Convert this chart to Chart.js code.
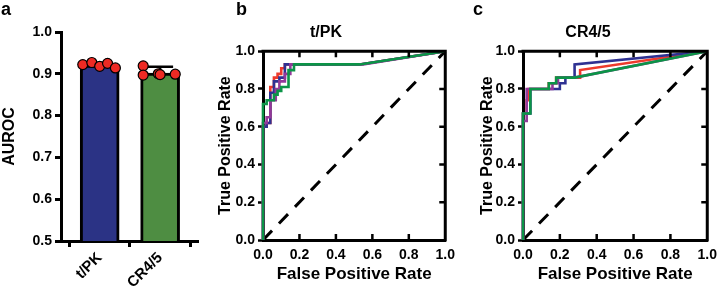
<!DOCTYPE html>
<html>
<head>
<meta charset="utf-8">
<script src="https://cdn.jsdelivr.net/npm/chart.js@4"></script>
<style>
  html, body { margin: 0; padding: 0; background: #fff; }
  #wrap { position: relative; width: 724px; height: 291px; overflow: hidden; font-family: 'Liberation Sans', Arial, sans-serif; }
  canvas { position: absolute; top: 0; }
  .tag { position: absolute; top: 0; font-weight: bold; font-size: 18px; line-height: 18px; color: #000; }
</style>
</head>
<body>
<div id="wrap">
  <canvas id="chartA" style="left:0" width="205" height="291"></canvas>
  <canvas id="chartB" style="left:200px" width="262" height="291"></canvas>
  <canvas id="chartC" style="left:462px" width="262" height="291"></canvas>
  <div class="tag" style="left:1px">a</div>
  <div class="tag" style="left:236px">b</div>
  <div class="tag" style="left:473px">c</div>
</div>
<script>
// panel a: AUROC per feature set (5 runs each)
const categories = ['t/PK', 'CR4/5'];
const aurocMean = [0.921, 0.902];
const aurocSd = [0.005, 0.015];
const tpkRuns = [0.922, 0.927, 0.918, 0.925, 0.914];
const crRuns = [0.919, 0.897, 0.900, 0.899, 0.898];
const tpkJitter = [-0.28, -0.13, 0, 0.13, 0.26];
const crJitter = [-0.28, -0.28, -0.03, 0.25, 0.0];
const barColors = ['#2b3385', '#4e8d42'];

// panels b/c: ROC curves [fpr, tpr]
const tpkRed = [[0,0],[0,0.6],[0.02,0.6],[0.02,0.62],[0.04,0.62],[0.04,0.81],[0.06,0.81],[0.06,0.86],[0.08,0.86],[0.08,0.88],[0.1,0.88],[0.1,0.91],[0.12,0.91],[0.12,0.93],[0.53,0.93],[1,1]];
const tpkBlue = [[0,0],[0,0.6],[0.02,0.6],[0.02,0.62],[0.04,0.62],[0.04,0.78],[0.06,0.78],[0.06,0.84],[0.09,0.84],[0.09,0.86],[0.12,0.86],[0.12,0.93],[0.53,0.93],[1,1]];
const tpkPurple = [[0,0],[0,0.62],[0.02,0.62],[0.02,0.65],[0.04,0.65],[0.04,0.74],[0.07,0.74],[0.07,0.8],[0.09,0.8],[0.09,0.84],[0.12,0.84],[0.12,0.88],[0.15,0.88],[0.15,0.93],[0.55,0.93],[1,1]];
const tpkGreen = [[0,0],[0,0.72],[0.02,0.72],[0.02,0.74],[0.06,0.74],[0.06,0.77],[0.08,0.77],[0.08,0.79],[0.1,0.79],[0.1,0.81],[0.14,0.81],[0.14,0.9],[0.17,0.9],[0.17,0.93],[0.53,0.93],[1,1]];

const crRed = [[0,0],[0,0.67],[0.02,0.67],[0.02,0.74],[0.03,0.74],[0.03,0.8],[0.14,0.8],[0.14,0.83],[0.18,0.83],[0.18,0.86],[0.31,0.86],[0.31,0.9],[1,1]];
const crBlue = [[0,0],[0,0.67],[0.04,0.67],[0.04,0.8],[0.2,0.8],[0.2,0.83],[0.23,0.83],[0.23,0.86],[0.28,0.86],[0.28,0.93],[1,1]];
const crPurple = [[0,0],[0,0.63],[0.02,0.63],[0.02,0.8],[0.16,0.8],[0.16,0.83],[0.19,0.83],[0.19,0.86],[0.28,0.86],[1,1]];
const crGreen = [[0,0],[0,0.67],[0.04,0.67],[0.04,0.8],[0.14,0.8],[0.14,0.83],[0.18,0.83],[0.18,0.86],[0.28,0.86],[1,1]];

const chance = [[0,0],[1,1]];
const rateTicks = [0, 0.2, 0.4, 0.6, 0.8, 1.0];

Chart.defaults.font.family = "'Liberation Sans', Arial, sans-serif";
Chart.defaults.font.weight = 'bold';
Chart.defaults.color = '#000';
Chart.defaults.animation = false;
Chart.defaults.plugins.legend.display = false;
Chart.defaults.plugins.tooltip.enabled = false;

// error bars drawn right after the bars, under the dots
const errorBars = {
  id: 'errorBars',
  afterDatasetDraw(chart, args) {
    if (args.index !== 0) return;
    const { ctx, scales: { x, y } } = chart;
    ctx.save();
    ctx.strokeStyle = '#000';
    ctx.lineWidth = 2.5;
    aurocMean.forEach((m, i) => {
      const px = x.getPixelForValue(i);
      const top = y.getPixelForValue(m + aurocSd[i]);
      ctx.beginPath();
      ctx.moveTo(px, y.getPixelForValue(m));
      ctx.lineTo(px, top);
      ctx.moveTo(px - 13, top);
      ctx.lineTo(px + 13, top);
      ctx.stroke();
    });
    ctx.restore();
  }
};

new Chart(document.getElementById('chartA'), {
  type: 'bar',
  data: {
    datasets: [{
      data: aurocMean.map((v, i) => ({ x: i, y: v })),
      backgroundColor: barColors,
      borderColor: '#000',
      borderWidth: 3,
      barThickness: 39,
      order: 2
    }, {
      type: 'scatter',
      data: tpkRuns.map((v, i) => ({ x: 0 + tpkJitter[i], y: v }))
        .concat(crRuns.map((v, i) => ({ x: 1 + crJitter[i], y: v }))),
      backgroundColor: '#ee2a24',
      borderColor: '#000',
      borderWidth: 1.2,
      pointRadius: 5,
      order: 1
    }]
  },
  options: {
    responsive: false,
    layout: { padding: { left: 0, right: 5, top: 32, bottom: 0 } },
    scales: {
      x: {
        type: 'linear',
        offset: false,
        min: -0.64,
        max: 1.64,
        afterBuildTicks: s => { s.ticks = categories.map((c, i) => ({ value: i })); },
        afterFit: s => { s.height = 50; },
        ticks: {
          callback: v => categories[v],
          minRotation: 45,
          maxRotation: 45,
          autoSkip: false,
          padding: 2,
          font: { size: 15, weight: 'bold' }
        },
        grid: { drawOnChartArea: false, drawTicks: true, tickLength: 6, tickColor: '#000', tickWidth: 3, color: '#000' },
        border: { color: '#000', width: 3 }
      },
      y: {
        min: 0.5,
        max: 1.0,
        afterFit: s => { s.width = 61; },
        ticks: { stepSize: 0.1, callback: v => v.toFixed(1), padding: 3, font: { size: 14, weight: 'bold' } },
        grid: { drawOnChartArea: false, drawTicks: true, tickLength: 6, tickColor: '#000', tickWidth: 3, color: '#000' },
        border: { color: '#000', width: 3 },
        title: { display: true, text: 'AUROC', padding: { top: 0, bottom: 0 }, font: { size: 16, weight: 'bold' } }
      }
    }
  },
  plugins: [errorBars]
});

// top/right frame plus inward tick marks, like the original plot style
const rocFrame = {
  id: 'rocFrame',
  afterDraw(chart) {
    const { ctx, chartArea: a, scales: { x, y } } = chart;
    ctx.save();
    ctx.strokeStyle = '#000';
    ctx.lineWidth = 3;
    ctx.lineCap = 'square';
    ctx.beginPath();
    ctx.moveTo(a.left, a.top);
    ctx.lineTo(a.right, a.top);
    ctx.lineTo(a.right, a.bottom);
    ctx.stroke();
    ctx.lineCap = 'butt';
    ctx.lineWidth = 2.5;
    ctx.beginPath();
    rateTicks.slice(1, -1).forEach(v => {
      const px = x.getPixelForValue(v);
      const py = y.getPixelForValue(v);
      ctx.moveTo(px, a.top); ctx.lineTo(px, a.top + 6);
      ctx.moveTo(px, a.bottom); ctx.lineTo(px, a.bottom - 6);
      ctx.moveTo(a.right, py); ctx.lineTo(a.right - 6, py);
    });
    ctx.stroke();
    ctx.restore();
  }
};

function curve(points, color, order) {
  return {
    data: points.map(p => ({ x: p[0], y: p[1] })),
    borderColor: color,
    borderWidth: 2.6,
    pointRadius: 0,
    showLine: true,
    tension: 0,
    clip: 4,
    order: order
  };
}

function rocChart(id, title, curves, axisWidth) {
  const chanceLine = curve(chance, '#000', 10);
  chanceLine.borderDash = [13, 10];
  chanceLine.borderWidth = 3;
  new Chart(document.getElementById(id), {
    type: 'scatter',
    data: { datasets: [
      curve(curves[0], '#ee3a2c', 4),
      curve(curves[1], '#2e3192', 3),
      curve(curves[2], '#93399a', 2),
      curve(curves[3], '#0b9447', 1),
      chanceLine
    ] },
    options: {
      responsive: false,
      layout: { padding: { left: 0, right: 10, top: 0, bottom: 0 } },
      plugins: {
        title: { display: true, text: title, padding: { top: 23, bottom: 9 }, font: { size: 16, weight: 'bold' } }
      },
      scales: {
        x: {
          type: 'linear', min: 0, max: 1,
          afterBuildTicks: s => { s.ticks = rateTicks.map(v => ({ value: v })); },
          afterFit: s => { s.height = 51; },
          ticks: { callback: v => v.toFixed(1), padding: 7, font: { size: 14, weight: 'bold' } },
          grid: { display: false, drawTicks: false },
          border: { color: '#000', width: 3 },
          title: { display: true, text: 'False Positive Rate', padding: { top: 0, bottom: 6 }, font: { size: 17, weight: 'bold' } }
        },
        y: {
          type: 'linear', min: 0, max: 1,
          afterBuildTicks: s => { s.ticks = rateTicks.map(v => ({ value: v })); },
          afterFit: s => { s.width = axisWidth; },
          ticks: { callback: v => v.toFixed(1), padding: 3, font: { size: 14, weight: 'bold' } },
          grid: { drawOnChartArea: false, drawTicks: true, tickLength: 5, tickColor: '#000', tickWidth: 2.5, color: '#000' },
          border: { color: '#000', width: 3 },
          title: { display: true, text: 'True Positive Rate', padding: { top: 16, bottom: 0 }, font: { size: 16, weight: 'bold' } }
        }
      }
    },
    plugins: [rocFrame]
  });
}

rocChart('chartB', 't/PK', [tpkRed, tpkBlue, tpkPurple, tpkGreen], 63);
rocChart('chartC', 'CR4/5', [crRed, crBlue, crPurple, crGreen], 61);
</script>
</body>
</html>
